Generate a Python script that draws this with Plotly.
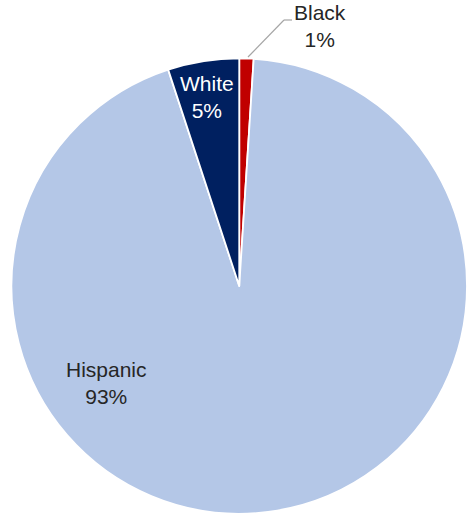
import plotly.graph_objects as go

# Population share by race/ethnicity (percent)
groups = ["Black", "Hispanic", "White"]
shares = [1, 93, 5]
colors = ["#C00000", "#B4C7E7", "#002060"]

W, H = 467, 517
cx, cy, r = 239.5, 286.0, 228.0  # pie centre and radius in pixels


def px(x):
    return x / W


def py(y):
    return 1 - y / H


fig = go.Figure(
    go.Pie(
        labels=groups,
        values=shares,
        sort=False,
        direction="clockwise",
        rotation=0,
        marker=dict(colors=colors, line=dict(color="white", width=1.8)),
        textinfo="none",
        hoverinfo="label+value",
        showlegend=False,
        domain=dict(x=[px(cx - r), min(1.0, px(cx + r))],
                    y=[py(cy + r), py(cy - r)]),
    )
)

font = dict(family="Liberation Sans, Arial, sans-serif", size=21)

# label positions (pixel centres) and text colours per group
label_pos = {"Black": (320, 26), "Hispanic": (106, 383), "White": (207, 97)}
label_col = {"Black": "#262626", "Hispanic": "#262626", "White": "#FFFFFF"}

for g, v in zip(groups, shares):
    x, y = label_pos[g]
    fig.add_annotation(
        x=px(x), y=py(y), xref="paper", yref="paper",
        text=f"{g}<br>{v}%", showarrow=False,
        font=dict(color=label_col[g], **font),
        xanchor="center", yanchor="middle", align="center",
    )

# leader line for the small slice
leader = [(248, 57), (284, 20), (292, 20)]
for (x0, y0), (x1, y1) in zip(leader[:-1], leader[1:]):
    fig.add_shape(type="line", xref="paper", yref="paper",
                  x0=px(x0), y0=py(y0), x1=px(x1), y1=py(y1),
                  line=dict(color="#A6A6A6", width=1.2))

fig.update_layout(
    width=W, height=H,
    margin=dict(l=0, r=0, t=0, b=0),
    paper_bgcolor="white",
    plot_bgcolor="white",
)

fig.write_html("out.html")
